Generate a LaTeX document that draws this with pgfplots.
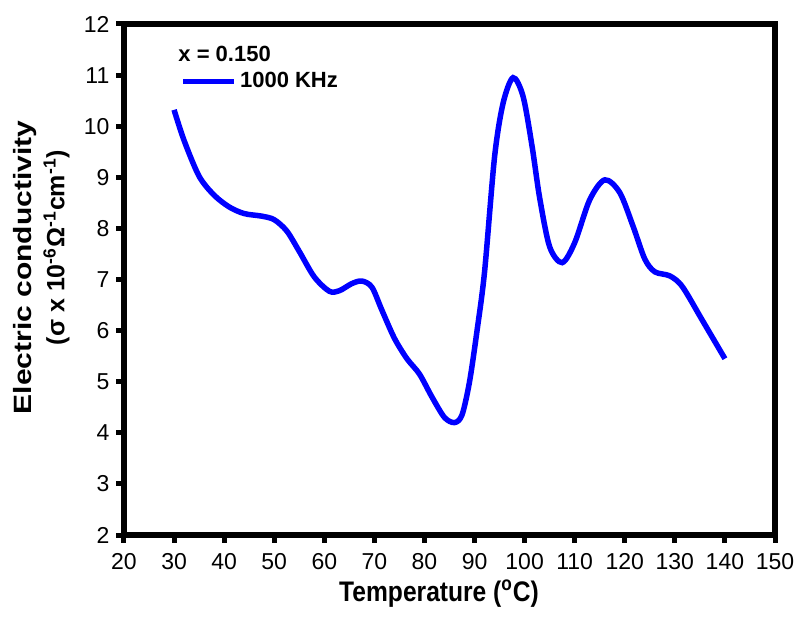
\documentclass[border=0pt]{standalone}
\usepackage{fontspec}
\setmainfont{Liberation Sans}
\usepackage{graphicx}
\usepackage{pgfplots}
\pgfplotsset{compat=1.18}
\begin{document}
\begin{tikzpicture}
\begin{axis}[
  scale only axis,
  width=325.5pt, height=255.5pt,
  xmin=20, xmax=150, ymin=2, ymax=12,
  xtick={20,30,...,150}, ytick={2,3,...,12},
  axis line style={line width=3pt},
  tick style={line width=2.5pt, black},
  tick align=outside,
  major tick length=3.8pt,
  xtick pos=bottom, ytick pos=left,
  /pgf/number format/assume math mode=true,
  tick label style={font=\fontsize{11.5}{13}\selectfont},
  xticklabel style={yshift=-2pt},
  xlabel={\scalebox{1}[1.15]{\textbf{Temperature (\textsuperscript{o}C)}}},
  xlabel style={at={(rel axis cs:0.484,0)}, anchor=base, yshift=-33pt, inner sep=0pt,
     font=\fontsize{12.3}{14}\selectfont},
  ylabel={\scalebox{1.2}[1]{\textbf{Electric conductivity}}\\[1pt]\hspace*{20pt}\textbf{(σ x 10\textsuperscript{-6}Ω\textsuperscript{-1}cm\textsuperscript{-1})}},
  ylabel style={align=center, at={(rel axis cs:0,0.5)}, anchor=south, yshift=27pt, xshift=6pt,
     inner sep=0pt, font=\fontsize{12.5}{15.5}\selectfont},
  legend style={draw=none, fill=none, at={(rel axis cs:0.086,0.887)}, anchor=west,
     font=\bfseries\fontsize{11}{13}\selectfont, inner sep=0pt,
     nodes={inner sep=1.6pt}},
  legend cell align=left,
  legend image code/.code={\draw[#1, line width=2.75pt] (0pt,0pt) -- (25.5pt,0pt);},
  clip=false,
]
\addplot[blue, line width=2.75pt, smooth, tension=0.5] coordinates {
(30,10.32) (32,9.72) (35,9.02) (38,8.65) (41,8.42) (44,8.29) (47.5,8.24) (50,8.17)
(52.5,7.95) (55,7.55) (58,7.05) (61,6.77) (63,6.78) (65.5,6.92) (67.5,6.97) (69.5,6.85)
(71.5,6.4) (74,5.85) (76.5,5.45) (79,5.15) (81.5,4.7) (84,4.3) (86,4.2) (87.5,4.35)
(89,5.0) (90.5,6.0) (92,7.15) (94,9.4) (95.7,10.45) (97.7,10.95) (99.7,10.58)
(101.5,9.6) (103,8.6) (105,7.64) (107.5,7.33) (110,7.72) (113,8.56) (116,8.95) (119,8.7)
(121.7,8.03) (124,7.4) (126,7.15) (129,7.07) (131.5,6.86) (135.5,6.2) (140,5.45)
};
\addlegendentry{1000 KHz}
\node[anchor=base west, font=\bfseries\fontsize{11}{13}\selectfont, inner sep=0pt] at (rel axis cs:0.083,0.926) {x = 0.150};
\end{axis}
\pgfresetboundingbox
\path ([shift={(-62pt,-42.5pt)}]current axis.south west) rectangle ([shift={(11pt,12pt)}]current axis.north east);
\end{tikzpicture}
\end{document}
